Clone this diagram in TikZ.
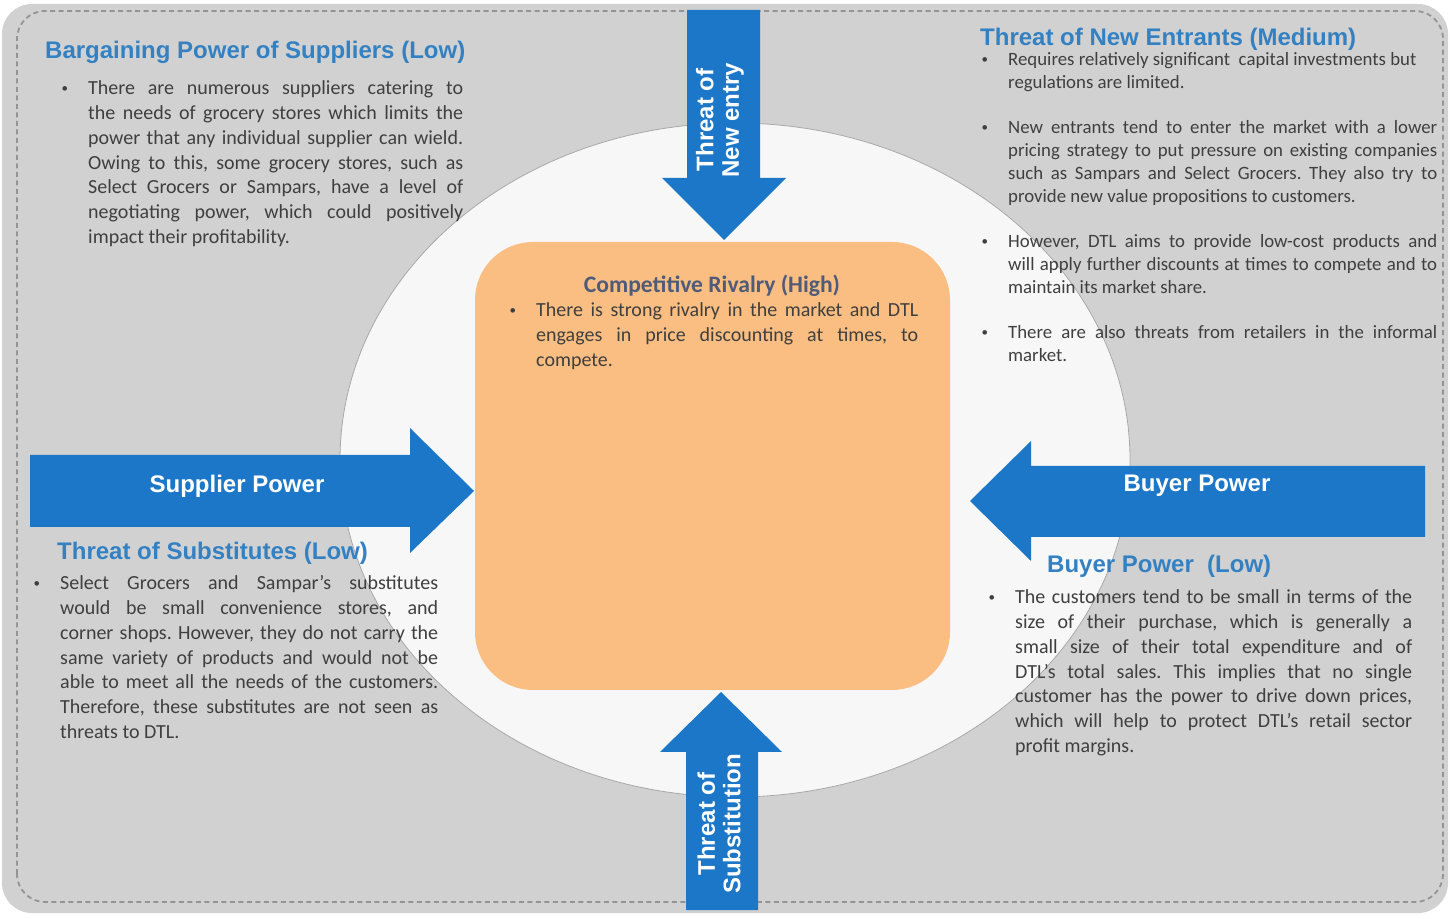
\documentclass[tikz,border=0pt]{standalone}
\usepackage{fontspec}
\setmainfont{Carlito}
\newfontfamily\arialfont{Liberation Sans}
\usetikzlibrary{positioning}

\definecolor{panelgray}{HTML}{D1D1D1}
\definecolor{edgegray}{HTML}{949494}
\definecolor{ringwhite}{HTML}{F7F7F7}
\definecolor{ringedge}{HTML}{A8A8A8}
\definecolor{rivalorange}{HTML}{FBBE82}
\definecolor{forceblue}{HTML}{1D77C8}
\definecolor{titleblue}{HTML}{3381C2}
\definecolor{bodygray}{HTML}{3F3F3F}
\definecolor{rivalslate}{HTML}{4F5B78}

% bullet hung in the left margin of a justified paragraph
\newcommand\bul{\noindent\llap{\raisebox{2.5pt}{\fontsize{13pt}{13pt}\selectfont\textbullet}\hspace{20pt}}}
\newcommand\gap{\par\vspace{22pt}}
\frenchspacing

\tikzset{
  heading/.style   = {anchor=base west, inner sep=0pt, text=titleblue,
                      font=\arialfont\bfseries\fontsize{24pt}{28pt}\selectfont},
  body/.style      = {anchor=base west, inner sep=0pt, align=justify, text=bodygray,
                      font=\fontsize{20pt}{24.7pt}\selectfont},
  small body/.style = {body, font=\fontsize{18.8pt}{23pt}\selectfont},
  force/.style     = {fill=forceblue},
  forcelabel/.style = {inner sep=0pt, text=white, align=center,
                      font=\arialfont\bfseries\fontsize{24pt}{25.5pt}\selectfont}
}

\begin{document}
\begin{tikzpicture}[x=1pt, y=1pt]
\useasboundingbox (0,0) rectangle (1450,918);

% panel with dashed frame
\fill[panelgray, rounded corners=30pt] (2,5) rectangle (1448,914);
\draw[edgegray, line width=1.8pt, dash pattern=on 5pt off 3.5pt, rounded corners=28pt] (17,16) rectangle (1443,907);

% ring and rivalry box
\draw[ringedge, fill=ringwhite, line width=0.8pt] (735,458) ellipse [x radius=395, y radius=337];
\fill[rivalorange, rounded corners=58pt] (475,228) rectangle (950,676);

% the four forces
\fill[force] (30,463) -- (410,463) -- (410,490) -- (474,427) -- (410,365) -- (410,391) -- (30,391) -- cycle;
\fill[force] (1425,452) -- (1031,452) -- (1031,477) -- (970,417) -- (1031,357) -- (1031,381) -- (1425,381) -- cycle;
\fill[force] (687,908) -- (760,908) -- (760,740) -- (786,740) -- (724,678) -- (662,740) -- (687,740) -- cycle;
\fill[force] (686,8) -- (758,8) -- (758,166) -- (782,166) -- (721,226) -- (660,166) -- (686,166) -- cycle;

\node[forcelabel, anchor=base] (supplier) at (237,425) {Supplier Power};
\node[forcelabel, anchor=base] (buyer) at (1197,426) {Buyer Power};
\node[forcelabel, rotate=90] (entry) at (720,798) {Threat of\\New entry};
\node[forcelabel, rotate=90] (subst) at (719,94) {Threat of\\Substitution};

% bargaining power of suppliers
\node[heading] (suppt) at (45,859) {Bargaining Power of Suppliers (Low)};
\node[body, text width=375pt] (suppb) at (88,823) {\bul There are numerous suppliers catering to\linebreak
the needs of grocery stores which limits the\linebreak
power that any individual supplier can wield.\linebreak
Owing to this, some grocery stores, such as\linebreak
Select Grocers or Sampars, have a level of\linebreak
negotiating power, which could positively\linebreak
impact their profitability.};

% threat of new entrants
\node[heading] (entt) at (980,872) {Threat of New Entrants (Medium)};
\node[small body, text width=429pt] (entb) at (1008,852) {\bul Requires relatively significant~ capital investments but\newline
regulations are limited.\gap
\bul New entrants tend to enter the market with a lower\linebreak
pricing strategy to put pressure on existing companies\linebreak
such as Sampars and Select Grocers. They also try to\linebreak
provide new value propositions to customers.\gap
\bul However, DTL aims to provide low-cost products and\linebreak
will apply further discounts at times to compete and to\linebreak
maintain its market share.\gap
\bul There are also threats from retailers in the informal\linebreak
market.};

% threat of substitutes
\node[heading] (subt) at (57,358) {Threat of Substitutes (Low)};
\node[body, text width=378pt] (subb) at (60,328) {\bul Select Grocers and Sampar’s substitutes\linebreak
would be small convenience stores, and\linebreak
corner shops. However, they do not carry the\linebreak
same variety of products and would not be\linebreak
able to meet all the needs of the customers.\linebreak
Therefore, these substitutes are not seen as\linebreak
threats to DTL.};

% buyer power
\node[heading] (buyt) at (1047,345) {Buyer Power\ \ (Low)};
\node[body, text width=397pt] (buyb) at (1015,314) {\bul The customers tend to be small in terms of the\linebreak
size of their purchase, which is generally a\linebreak
small size of their total expenditure and of\linebreak
DTL’s total sales. This implies that no single\linebreak
customer has the power to drive down prices,\linebreak
which will help to protect DTL’s retail sector\linebreak
profit margins.};

% competitive rivalry
\node[anchor=base, inner sep=0pt, text=rivalslate, font=\bfseries\fontsize{23.6pt}{26pt}\selectfont] (rivt) at (712,625) {Competitive Rivalry (High)};
\node[body, text width=382pt] (rivb) at (536,601) {\bul There is strong rivalry in the market and DTL\linebreak
engages in price discounting at times, to\linebreak
compete.};

\end{tikzpicture}
\end{document}
